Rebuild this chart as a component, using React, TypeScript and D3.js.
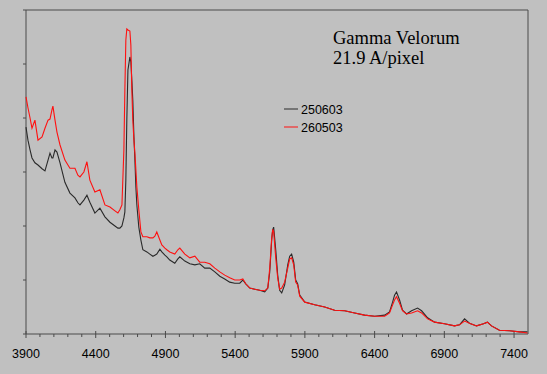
import React from "react";
import * as d3 from "d3";

// wavelength (Angstrom) shared by both spectra
const wavelength = [
  3900, 3914, 3929, 3943, 3964, 3986, 4015, 4036, 4058, 4072,
  4086, 4093, 4108, 4122, 4144, 4179, 4215, 4251, 4272, 4287,
  4315, 4337, 4358, 4394, 4430, 4466, 4502, 4538, 4559, 4573,
  4588, 4602, 4609, 4616, 4623, 4631, 4645, 4652, 4659, 4666,
  4674, 4681, 4688, 4695, 4709, 4724, 4738, 4767, 4788, 4810,
  4824, 4838, 4860, 4874, 4896, 4910, 4931, 4967, 4989, 5003,
  5039, 5075, 5111, 5146, 5182, 5218, 5254, 5290, 5325, 5361,
  5397, 5433, 5455, 5476, 5505, 5540, 5576, 5612, 5634, 5648,
  5662, 5669, 5676, 5691, 5705, 5719, 5734, 5755, 5777, 5791,
  5805, 5820, 5834, 5848, 5863, 5899, 5970, 6042, 6113, 6185,
  6257, 6328, 6400, 6472, 6507, 6529, 6543, 6557, 6579, 6600,
  6629, 6665, 6708, 6737, 6780, 6830, 6901, 6973, 7009, 7045,
  7080, 7131, 7181, 7209, 7238, 7295, 7367, 7439, 7496,
];

// 250603 (black)
const flux250603 = [
  3.83, 3.59, 3.41, 3.26, 3.17, 3.13, 3.06, 3.02, 3.22, 3.35,
  3.26, 3.26, 3.41, 3.37, 3.17, 2.81, 2.61, 2.52, 2.43, 2.39,
  2.48, 2.57, 2.44, 2.24, 2.33, 2.17, 2.07, 2.0, 1.96, 1.96,
  2.0, 2.15, 2.26, 2.85, 3.96, 4.89, 5.13, 5.04, 4.7, 4.33,
  3.65, 3.22, 2.72, 2.39, 1.98, 1.74, 1.56, 1.52, 1.48, 1.44,
  1.46, 1.48, 1.57, 1.52, 1.46, 1.43, 1.37, 1.31, 1.39, 1.43,
  1.35, 1.3, 1.28, 1.3, 1.22, 1.22, 1.15, 1.07, 1.02, 0.96,
  0.94, 0.94, 1.0, 0.93, 0.85, 0.83, 0.81, 0.78, 0.85, 1.15,
  1.74, 1.93, 1.98, 1.56, 1.09, 0.81, 0.76, 0.91, 1.28, 1.44,
  1.48, 1.33, 1.0, 0.93, 0.72, 0.59, 0.54, 0.5, 0.44, 0.43,
  0.39, 0.35, 0.33, 0.35, 0.41, 0.59, 0.72, 0.78, 0.63, 0.44,
  0.37, 0.43, 0.48, 0.43, 0.3, 0.22, 0.19, 0.15, 0.17, 0.28,
  0.2, 0.15, 0.19, 0.22, 0.15, 0.07, 0.06, 0.04, 0.04,
];

// 260503 (red)
const flux260503 = [
  4.39, 4.19, 4.0, 3.81, 3.96, 3.59, 3.65, 3.81, 3.96, 3.98,
  4.15, 4.22, 3.96, 3.74, 3.5, 3.22, 3.07, 3.07, 2.94, 2.91,
  3.0, 3.19, 2.85, 2.63, 2.67, 2.39, 2.35, 2.28, 2.24, 2.3,
  2.39, 3.41, 4.52, 5.44, 5.65, 5.63, 5.61, 5.35, 4.52, 3.96,
  3.59, 3.35, 3.04, 2.72, 2.3, 1.89, 1.8, 1.8, 1.78, 1.78,
  1.81, 1.89, 1.74, 1.65, 1.59, 1.56, 1.52, 1.48, 1.56, 1.59,
  1.48, 1.41, 1.44, 1.33, 1.33, 1.3, 1.22, 1.15, 1.09, 1.04,
  1.0, 1.0, 1.02, 0.93, 0.85, 0.83, 0.81, 0.8, 0.85, 1.22,
  1.78, 1.94, 1.89, 1.41, 1.04, 0.83, 0.85, 0.96, 1.22, 1.39,
  1.41, 1.28, 0.96, 0.91, 0.7, 0.59, 0.54, 0.5, 0.44, 0.43,
  0.39, 0.35, 0.33, 0.33, 0.39, 0.54, 0.63, 0.69, 0.57, 0.43,
  0.37, 0.39, 0.43, 0.39, 0.28, 0.22, 0.19, 0.15, 0.17, 0.24,
  0.2, 0.15, 0.19, 0.22, 0.15, 0.07, 0.06, 0.04, 0.02,
];

const seriesNames = ["250603", "260503"];
const seriesColors = ["#2a2a2a", "#ff1010"];
const xTickValues = [3900, 4400, 4900, 5400, 5900, 6400, 6900, 7400];
const titleLines = ["Gamma Velorum", "21.9 A/pixel"];

const width = 547;
const height = 374;
const margin = { top: 10, right: 19, bottom: 40, left: 26 };

export default function App() {
  const x = d3
    .scaleLinear()
    .domain([3900, 7500])
    .range([margin.left, width - margin.right]);
  const y = d3
    .scaleLinear()
    .domain([0, 6])
    .range([height - margin.bottom, margin.top]);

  const line = d3
    .line<[number, number]>()
    .x((d) => x(d[0]))
    .y((d) => y(d[1]));

  const series = [flux250603, flux260503].map((f) =>
    wavelength.map((w, i) => [w, f[i]] as [number, number])
  );

  const minorTicks = d3.range(3900, 7500, 100).filter((t) => (t - 3900) % 500 !== 0);
  const axisColor = "#4a4a4a";
  const x0 = x.range()[0];
  const x1 = x.range()[1];
  const yb = y.range()[0];
  const yt = y.range()[1];

  return (
    <svg
      width={width}
      height={height}
      style={{ position: "absolute", left: 0, top: 0, display: "block" }}
    >
      <rect x={0} y={0} width={width} height={height} fill="#c0c0c0" />

      {/* frame */}
      <line x1={x0} x2={x1} y1={yt} y2={yt} stroke={axisColor} strokeWidth={1} />
      <line x1={x1} x2={x1} y1={yt} y2={yb} stroke={axisColor} strokeWidth={1} />
      <line x1={x0} x2={x0} y1={yt} y2={yb} stroke={axisColor} strokeWidth={1} />
      <line x1={x0} x2={x1} y1={yb} y2={yb} stroke={axisColor} strokeWidth={1} />

      {/* y ticks, no labels */}
      {y.ticks(6).map((t) => (
        <line key={"y" + t} x1={x0 - 3} x2={x0} y1={y(t)} y2={y(t)} stroke={axisColor} />
      ))}

      {/* x ticks */}
      {minorTicks.map((t) => (
        <line key={"m" + t} x1={x(t)} x2={x(t)} y1={yb} y2={yb + 3} stroke={axisColor} />
      ))}
      {xTickValues.map((t) => (
        <g key={"x" + t}>
          <line x1={x(t)} x2={x(t)} y1={yb - 3} y2={yb + 4} stroke={axisColor} />
          <text
            x={x(t)}
            y={yb + 24}
            textAnchor="middle"
            fontFamily="Liberation Sans, Arial, sans-serif"
            fontSize={12.5}
            fill="#000"
          >
            {t}
          </text>
        </g>
      ))}

      {/* spectra */}
      {series.map((s, i) => (
        <path
          key={seriesNames[i]}
          d={line(s) ?? ""}
          fill="none"
          stroke={seriesColors[i]}
          strokeWidth={1.1}
        />
      ))}

      {/* title */}
      {titleLines.map((t, i) => (
        <text
          key={t}
          x={333}
          y={44 + i * 20}
          fontFamily="Liberation Serif, Times New Roman, serif"
          fontSize={18.5}
          fill="#000"
        >
          {t}
        </text>
      ))}

      {/* legend */}
      {seriesNames.map((n, i) => (
        <g key={"lg" + n} transform={`translate(284,${109 + i * 18})`}>
          <line x1={0} x2={14} y1={0} y2={0} stroke={seriesColors[i]} strokeWidth={1} />
          <text
            x={17}
            y={4.5}
            fontFamily="Liberation Sans, Arial, sans-serif"
            fontSize={12.5}
            fill="#000"
          >
            {n}
          </text>
        </g>
      ))}
    </svg>
  );
}
